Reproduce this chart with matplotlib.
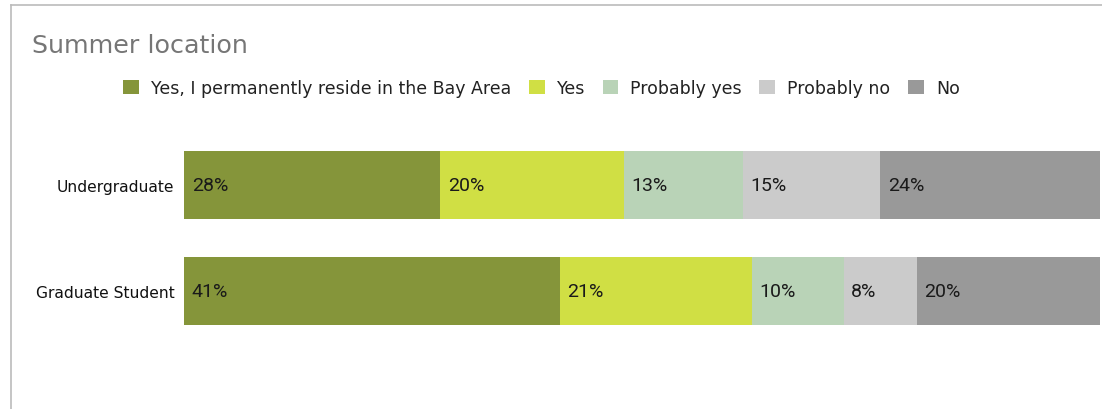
import matplotlib
matplotlib.use("Agg")
import matplotlib.pyplot as plt
from matplotlib.lines import Line2D
from matplotlib.patches import Patch

categories = ["Undergraduate", "Graduate Student"]
series_names = ["Yes, I permanently reside in the Bay Area", "Yes", "Probably yes", "Probably no", "No"]
values = {
    "Yes, I permanently reside in the Bay Area": [28, 41],
    "Yes": [20, 21],
    "Probably yes": [13, 10],
    "Probably no": [15, 8],
    "No": [24, 20],
}
colors = ["#85953A", "#D0DF44", "#B9D3B7", "#CBCBCB", "#999999"]

W, H = 1102, 410
fig = plt.figure(figsize=(W / 100, H / 100), dpi=100)

# axes in pixel geometry
left, right = 184, 1100
top, bottom = 133, 345
ax = fig.add_axes([left / W, 1 - bottom / H, (right - left) / W, (bottom - top) / H])

ypos = list(range(len(categories)))
cum = [0] * len(categories)
for name, col in zip(series_names, colors):
    vals = values[name]
    ax.barh(ypos, vals, left=cum, height=0.64, color=col, edgecolor="none")
    for i, v in enumerate(vals):
        ax.text(cum[i] + 0.85, ypos[i], f"{v}%", va="center", ha="left",
                fontsize=14, family=["Roboto", "DejaVu Sans"], color="#1a1a1a")
    cum = [c + v for c, v in zip(cum, vals)]

ax.set_xlim(0, 100)
ax.set_ylim(1.5, -0.5)
ax.set_yticks(ypos)
ax.set_yticklabels(categories, fontsize=11.2, color="#111111")
ax.tick_params(axis="y", length=0, pad=7)
ax.set_xticks([])
for s in ax.spines.values():
    s.set_visible(False)

# title
fig.text(32 / W, 1 - 46 / H, "Summer location", fontsize=18.3, color="#767676",
         va="center", ha="left")

# legend
handles = [Patch(facecolor=c, edgecolor="none") for c in colors]
fig.legend(handles, series_names, loc="center", bbox_to_anchor=(541.5 / W, 1 - 89 / H),
           ncol=5, frameon=False, fontsize=12.5, handlelength=0.92, handleheight=0.92,
           handletextpad=0.69, columnspacing=1.0, labelcolor="#222222")

# frame lines
fig.add_artist(Line2D([11 / W, 11 / W], [0, 1 - 6 / H], color="#BBBBBB", lw=1.2))
fig.add_artist(Line2D([11 / W, 1], [1 - 6 / H, 1 - 6 / H], color="#BBBBBB", lw=1.2))

fig.savefig("out.png", dpi=100)
